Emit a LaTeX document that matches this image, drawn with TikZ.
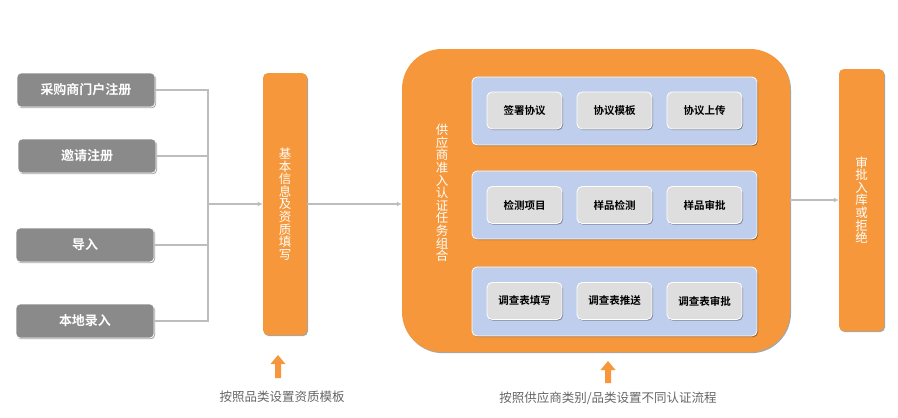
\documentclass[tikz,border=0pt]{standalone}
\usepackage{fontspec}
\setmainfont{Noto Sans CJK SC}[BoldFont={Noto Sans CJK SC Bold}]
\usetikzlibrary{arrows.meta,shadows}
\definecolor{org}{HTML}{F5973A}
\definecolor{gbox}{HTML}{8A8A8A}
\definecolor{lbox}{HTML}{DEDEDE}
\definecolor{panel}{HTML}{BFCEEC}
\definecolor{conn}{HTML}{BDBDBD}
\definecolor{note}{HTML}{666666}
\tikzset{
  shad/.style={drop shadow={shadow xshift=1pt,shadow yshift=-1.2pt,opacity=.35,fill=black}},
  graybox/.style={shad,fill=gbox,draw=white,line width=0.8pt,rounded corners=4pt,minimum width=138pt,minimum height=34pt,text=white,font=\fontsize{13}{13}\selectfont\bfseries,inner sep=0pt},
  orgbar/.style={fill=org,rounded corners=5pt,minimum width=44pt,minimum height=262pt,inner sep=0pt},
  vtext/.style={text=white,align=center,font=\fontsize{12.5}{12.6}\selectfont,inner sep=0pt},
  panelbox/.style={shad,fill=panel,draw=white,line width=0.8pt,rounded corners=5pt,minimum width=285pt,minimum height=68pt,inner sep=0pt},
  itembox/.style={shad,fill=lbox,draw=white,line width=0.8pt,rounded corners=5pt,minimum width=75pt,minimum height=37pt,font=\fontsize{10.5}{10.5}\selectfont\bfseries,inner sep=0pt},
  conline/.style={draw=conn,line width=1.3pt},
  conarrow/.style={conline,-{Latex[length=5pt,width=5pt]}},
  upfill/.style={fill=org},
  notetext/.style={text=note,font=\fontsize{12.5}{12.5}\selectfont,inner sep=0pt}
}
\begin{document}
\begin{tikzpicture}[x=1pt,y=-1pt]
\useasboundingbox (0,0) rectangle (898,418);
% left boxes
\node[graybox] (b1) at (86,90) {采购商门户注册};
\node[graybox] (b2) at (87,156) {邀请注册};
\node[graybox] (b3) at (85,245) {导入};
\node[graybox] (b4) at (85,321) {本地录入};
% orange bars
\node[orgbar,shad] (o1) at (285,204) {};
\node[vtext] at (o1.center) {基\\本\\信\\息\\及\\资\\质\\填\\写};
\node[shad,fill=org,rounded corners=40pt,minimum width=388pt,minimum height=303pt,inner sep=0pt] (big) at (596,200.5) {};
\node[vtext] (bigt) at (442,193) {供\\应\\商\\准\\入\\认\\证\\任\\务\\组\\合};
\node[orgbar,minimum width=45pt,shad] (o3) at (861.5,200) {};
\node[vtext] at (o3.center) {审\\批\\入\\库\\或\\拒\\绝};
% panels
\node[panelbox] (p1) at (614.5,111) {};
\node[panelbox] (p2) at (614.5,205) {};
\node[panelbox,minimum height=69pt] (p3) at (614.5,301.5) {};
\node[itembox] (i11) at (524.5,110.5) {签署协议};
\node[itembox] (i12) at (614.5,110.5) {协议模板};
\node[itembox] (i13) at (704.5,110.5) {协议上传};
\node[itembox] (i21) at (524.5,205) {检测项目};
\node[itembox] (i22) at (614.5,205) {样品检测};
\node[itembox] (i23) at (704.5,205) {样品审批};
\node[itembox] (i31) at (524.5,301) {调查表填写};
\node[itembox] (i32) at (614.5,301) {调查表推送};
\node[itembox] (i33) at (704.5,301) {调查表审批};
% connectors
\coordinate (j) at (208,204);
\draw[conline] (b1.east) -| (j);
\draw[conline] (b2.east) -| (j);
\draw[conline] (b3.east) -| (j);
\draw[conline] (b4.east) -| (j);
\draw[conarrow] (j) -- (o1.west);
\draw[conarrow] (o1.east) -- (o1.east -| big.west);
\draw[conarrow] (big.east |- 0,200) -- (o3.west);
% bottom arrows
\fill[upfill] (278,355) -- (285.5,364) -- (281,364) -- (281,378) -- (275,378) -- (275,364) -- (270.5,364) -- cycle;
\fill[upfill] (608,361) -- (615.5,370) -- (611,370) -- (611,383) -- (605,383) -- (605,370) -- (600.5,370) -- cycle;
\node[notetext] (n1) at (282,397) {按照品类设置资质模板};
\node[notetext] (n2) at (608,398) {按照供应商类别/品类设置不同认证流程};
\end{tikzpicture}
\end{document}
